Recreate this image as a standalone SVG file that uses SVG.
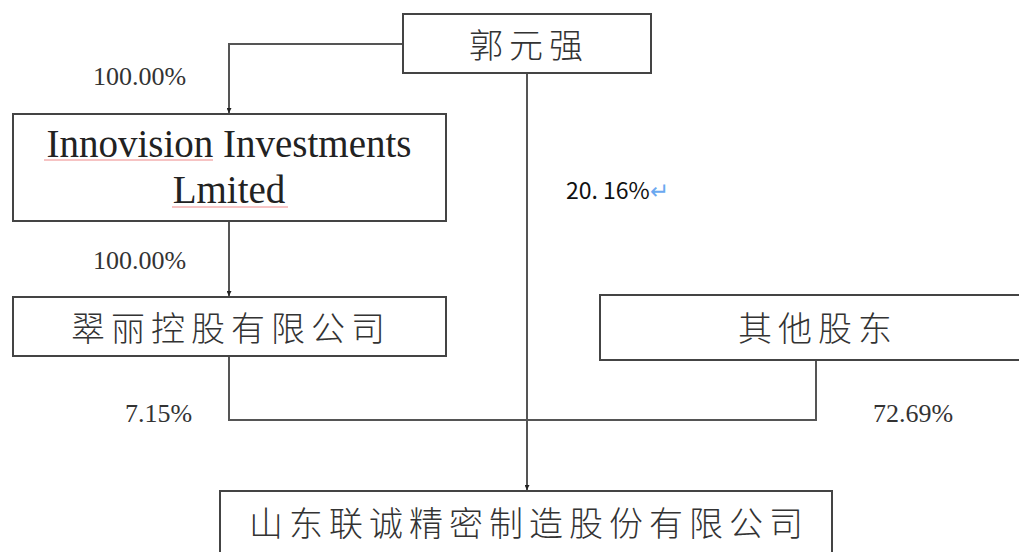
<svg xmlns="http://www.w3.org/2000/svg" width="1019" height="552" viewBox="0 0 1019 552">
<style>
.box{fill:#fff;stroke:#444;stroke-width:2}
.ln{fill:none;stroke:#555;stroke-width:2}
.cn{font-family:"Noto Sans CJK SC",sans-serif;font-weight:300;fill:#333;font-size:34px;letter-spacing:6px}
.en{font-family:"Liberation Serif",serif;fill:#222;font-size:39px}
.pct{font-family:"Liberation Serif",serif;fill:#333;font-size:26px}
.sq{stroke:#e88;stroke-width:1;fill:none}
</style>
<defs>
<marker id="ah" viewBox="0 0 10 10" refX="10" refY="5" markerWidth="5" markerHeight="5" orient="auto" markerUnits="userSpaceOnUse"><path d="M0,0 L10,5 L0,10 z" fill="#222"/></marker>
</defs>
<rect width="1019" height="552" fill="#fff"/>
<g id="connectors">
<path class="ln" d="M403,44 H229 V113" marker-end="url(#ah)"/>
<path class="ln" d="M229,221 V296" marker-end="url(#ah)"/>
<path class="ln" d="M229,356 V420 H816 V360"/>
<path class="ln" d="M527,73 V490" marker-end="url(#ah)"/>
<text class="pct" x="93" y="85">100.00%</text>
<text class="pct" x="93" y="269">100.00%</text>
<text class="pct" x="125" y="422">7.15%</text>
<text class="pct" x="873" y="422">72.69%</text>
<text x="566" y="199" font-family="'Noto Sans CJK SC',sans-serif" font-size="23" fill="#111" xml:space="preserve">20. 16%<tspan fill="#6aa8f0">↵</tspan></text>
</g>
<g id="guo">
<rect class="box" x="403" y="14" width="248" height="59"/>
<text class="cn" x="529" y="58" text-anchor="middle">郭元强</text>
</g>
<g id="innovision">
<rect class="box" x="13" y="114" width="433" height="107"/>
<text class="en" x="229" y="157" text-anchor="middle">Innovision Investments</text>
<text class="en" x="229" y="203" text-anchor="middle">Lmited</text>
<path class="sq" d="M44,160 H213 M172,207 H288"/>
</g>
<g id="cuili">
<rect class="box" x="13" y="297" width="433" height="59"/>
<text class="cn" x="231" y="341" text-anchor="middle">翠丽控股有限公司</text>
</g>
<g id="others">
<rect class="box" x="600" y="295" width="430" height="65"/>
<text class="cn" x="818" y="341" text-anchor="middle">其他股东</text>
</g>
<g id="liancheng">
<rect class="box" x="220" y="491" width="612" height="80"/>
<text class="cn" x="529" y="536" text-anchor="middle">山东联诚精密制造股份有限公司</text>
</g>
</svg>
